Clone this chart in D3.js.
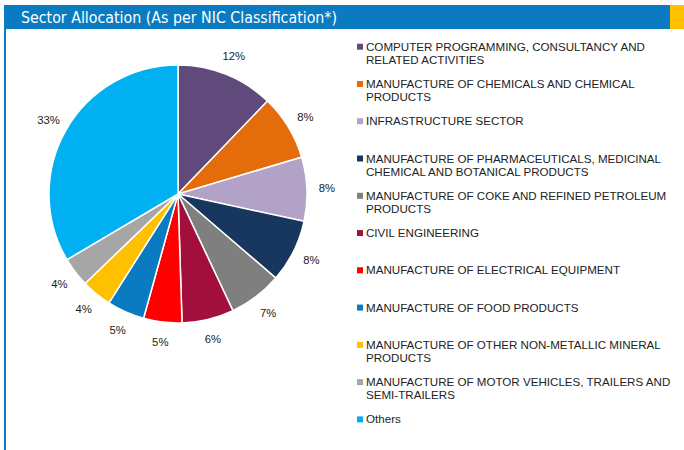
<!DOCTYPE html>
<html>
<head>
<meta charset="utf-8">
<script src="https://cdn.jsdelivr.net/npm/d3@7"></script>
<style>
  body { margin: 0; background: #fff; }
  svg { display: block; }
</style>
</head>
<body>
<svg id="chart"></svg>
<script>
// sector data (clockwise from 12 o'clock)
var sectors = [
  "COMPUTER PROGRAMMING, CONSULTANCY AND|RELATED ACTIVITIES",
  "MANUFACTURE OF CHEMICALS AND CHEMICAL|PRODUCTS",
  "INFRASTRUCTURE SECTOR",
  "MANUFACTURE OF PHARMACEUTICALS, MEDICINAL|CHEMICAL AND BOTANICAL PRODUCTS",
  "MANUFACTURE OF COKE AND REFINED PETROLEUM|PRODUCTS",
  "CIVIL ENGINEERING",
  "MANUFACTURE OF ELECTRICAL EQUIPMENT",
  "MANUFACTURE OF FOOD PRODUCTS",
  "MANUFACTURE OF OTHER NON-METALLIC MINERAL|PRODUCTS",
  "MANUFACTURE OF MOTOR VEHICLES, TRAILERS AND|SEMI-TRAILERS",
  "Others"
];
var shares = [12.2, 8.2, 8.0, 7.9, 6.7, 6.5, 4.8, 4.7, 3.8, 3.7, 33.5];
var shareLabels = ["12%", "8%", "8%", "8%", "7%", "6%", "5%", "5%", "4%", "4%", "33%"];
var colors = ["#604a7b", "#e46c0a", "#b3a2c7", "#17375e", "#7f7f7f", "#a20f3c",
              "#ff0000", "#0a7bc1", "#ffc000", "#a6a6a6", "#00b0f0"];

var width = 684, height = 450;
var svg = d3.select("#chart").attr("width", width).attr("height", height);

// header bar
svg.append("rect").attr("x", 4).attr("y", 5).attr("width", 666).attr("height", 24).attr("fill", "#0a7bc1");
svg.append("rect").attr("x", 670).attr("y", 5).attr("width", 14).attr("height", 24).attr("fill", "#ffc000");
svg.append("rect").attr("x", 4).attr("y", 29).attr("width", 2).attr("height", height - 29).attr("fill", "#0a7bc1");
svg.append("text")
    .attr("x", 21).attr("y", 23)
    .attr("fill", "#fff")
    .style("font-family", "'DejaVu Sans Condensed', 'Liberation Sans Narrow', sans-serif")
    .style("font-size", "15.8px")
    .text("Sector Allocation (As per NIC Classification*)");

// pie
var cx = 178, cy = 194, radius = 129;
var pie = d3.pie().sort(null).value(d => d);
var arcs = pie(shares);
var arc = d3.arc().innerRadius(0).outerRadius(radius);
var labelArc = d3.arc().innerRadius(149).outerRadius(149);

var g = svg.append("g").attr("transform", `translate(${cx},${cy})`);
g.selectAll("path.slice")
  .data(arcs)
  .enter().append("path")
    .attr("class", "slice")
    .attr("d", arc)
    .attr("fill", (d, i) => colors[i])
    .attr("stroke", "#fff")
    .attr("stroke-width", 1.5);

g.selectAll("text.pct")
  .data(arcs)
  .enter().append("text")
    .attr("class", "pct")
    .attr("transform", d => `translate(${labelArc.centroid(d)})`)
    .attr("text-anchor", "middle")
    .attr("dy", "0.35em")
    .style("font-family", "'Liberation Sans', Arial, sans-serif")
    .style("font-size", "11.3px")
    .attr("fill", "#222")
    .text((d, i) => shareLabels[i]);

// legend
var legY = d3.scalePoint().domain(d3.range(sectors.length)).range([46.7, 419.4]);
var leg = svg.append("g");
var items = leg.selectAll("g.item")
  .data(sectors)
  .enter().append("g")
    .attr("class", "item")
    .attr("transform", (d, i) => `translate(357,${legY(i)})`);

items.append("rect")
    .attr("x", 0).attr("y", -3)
    .attr("width", 6).attr("height", 6)
    .attr("fill", (d, i) => colors[i]);

items.append("text")
    .attr("x", 9)
    .style("font-family", "'Liberation Sans', Arial, sans-serif")
    .style("font-size", "11.6px")
    .attr("fill", "#222")
    .selectAll("tspan")
    .data(d => d.split("|"))
    .enter().append("tspan")
      .attr("x", 9)
      .attr("dy", (t, j) => j === 0 ? "0.35em" : "13.3px")
      .text(t => t);
</script>
</body>
</html>
